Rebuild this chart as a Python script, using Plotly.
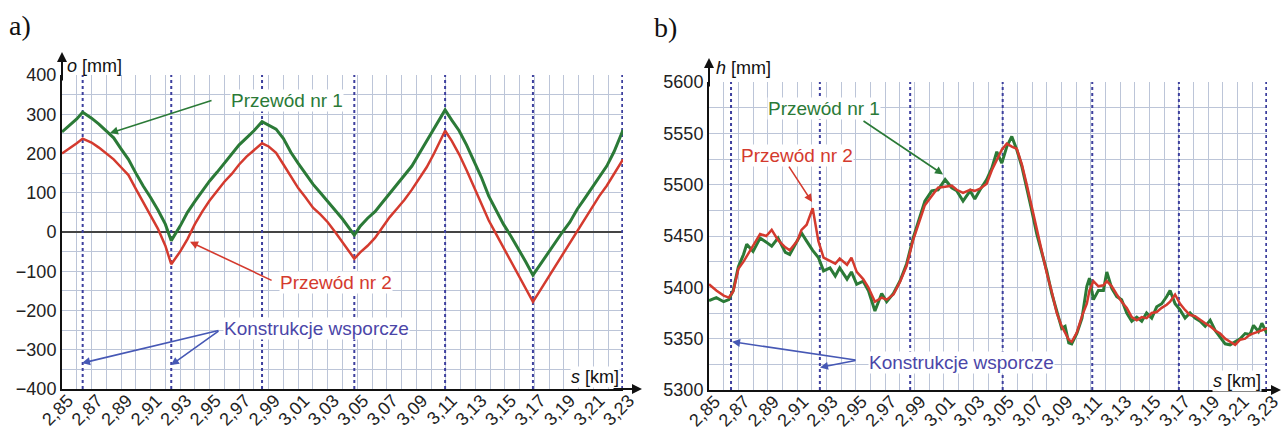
import plotly.graph_objects as go

W, H = 1285, 434

# ---------------- data: panel a) (stagger o [mm]) ----------------
s_a = [2.850, 2.855, 2.860, 2.864, 2.870, 2.875, 2.880, 2.885, 2.890, 2.895, 2.900, 2.905, 2.910, 2.915, 2.920, 2.924,
       2.930, 2.935, 2.940, 2.945, 2.950, 2.955, 2.960, 2.965, 2.970, 2.975, 2.980, 2.9855,
       2.990, 2.995, 3.000, 3.005, 3.010, 3.015, 3.020, 3.025, 3.030, 3.035, 3.040, 3.048,
       3.052, 3.057, 3.062, 3.067, 3.072, 3.077, 3.082, 3.087, 3.092, 3.097, 3.102, 3.1095,
       3.114, 3.119, 3.124, 3.129, 3.134, 3.139, 3.144, 3.149, 3.154, 3.159, 3.164, 3.169,
       3.174, 3.179, 3.184, 3.189, 3.194, 3.199, 3.204, 3.209, 3.214, 3.219, 3.224, 3.230]
o_nr1 = [255, 272, 288, 305, 290, 275, 258, 240, 212, 185, 150, 117, 88, 56, 20, -22,
         15, 50, 78, 105, 130, 152, 176, 198, 222, 240, 258, 281,
         272, 262, 238, 203, 175, 148, 122, 100, 78, 55, 33, -8,
         15, 35, 52, 75, 98, 120, 143, 168, 200, 232, 262, 311,
         285, 258, 222, 182, 140, 92, 55, 20, -10, -42, -75, -110,
         -82, -55, -25, 0, 25, 58, 85, 112, 140, 168, 205, 260]
o_nr2 = [200, 212, 226, 238, 228, 215, 200, 185, 165, 145, 110, 75, 42, 8, -35, -82,
         -50, -18, 20, 52, 80, 105, 128, 148, 172, 192, 208, 226,
         218, 202, 172, 142, 112, 88, 62, 45, 25, 0, -25, -68,
         -52, -35, -15, 12, 38, 60, 82, 108, 135, 165, 200, 258,
         232, 198, 158, 115, 72, 30, -5, -40, -72, -108, -142, -178,
         -148, -118, -88, -60, -28, 2, 30, 60, 92, 118, 148, 185]
supports_a = [2.864, 2.924, 2.9855, 3.048, 3.1095, 3.169, 3.2295]

# ---------------- data: panel b) (height h [mm]) ----------------
s_b = [2.850, 2.855, 2.860, 2.8635, 2.8665, 2.870, 2.8735, 2.8757, 2.880, 2.8848,
       2.889, 2.8927, 2.897, 2.902, 2.905, 2.910, 2.913, 2.9165, 2.9206, 2.9245,
       2.928, 2.9324, 2.936, 2.939, 2.944, 2.947, 2.9506, 2.955, 2.9585, 2.963,
       2.9676, 2.971, 2.9756, 2.980, 2.9846, 2.989, 2.9937, 2.997, 3.0017, 3.006,
       3.0108, 3.0153, 3.0187, 3.023, 3.0278, 3.031, 3.0346, 3.0391, 3.0426, 3.046,
       3.0494, 3.0528, 3.0562, 3.0596, 3.063, 3.0664, 3.0698, 3.0732, 3.0766, 3.080,
       3.0834, 3.0868, 3.0902, 3.0925, 3.095, 3.097, 3.1005, 3.104, 3.1073, 3.1091,
       3.1118, 3.1152, 3.1186, 3.1209, 3.1243, 3.1277, 3.131, 3.1345, 3.1379, 3.1413,
       3.1447, 3.148, 3.1515, 3.1549, 3.1583, 3.1617, 3.164, 3.1674, 3.1708, 3.1742,
       3.1776, 3.181, 3.1845, 3.1879, 3.1913, 3.1947, 3.1981, 3.2015, 3.2049, 3.2083,
       3.2117, 3.2151, 3.2185, 3.2208, 3.2242, 3.2265, 3.230]
h_nr1 = [5387, 5390, 5386, 5388, 5397, 5420, 5432, 5442, 5435, 5448,
         5444, 5440, 5448, 5434, 5432, 5445, 5453, 5445, 5436, 5429,
         5416, 5419, 5411, 5419, 5408, 5415, 5403, 5406, 5397, 5377,
         5394, 5386, 5394, 5406, 5423, 5448, 5468, 5484, 5494, 5495,
         5505, 5497, 5494, 5484, 5494, 5486, 5495, 5505, 5516, 5532,
         5521, 5537, 5547, 5534, 5518, 5498, 5475, 5452, 5433, 5416,
         5394, 5378, 5360, 5362, 5346, 5345, 5355, 5370, 5401, 5409,
         5388, 5397, 5397, 5415, 5399, 5391, 5388, 5375, 5367, 5371,
         5367, 5375, 5370, 5381, 5384, 5391, 5397, 5384, 5378, 5370,
         5375, 5370, 5367, 5362, 5368, 5358, 5352, 5345, 5344, 5347,
         5350, 5355, 5354, 5363, 5357, 5365, 5355]
h_nr2 = [5403, 5397, 5392, 5390, 5396, 5418, 5425, 5430, 5440, 5452,
         5450, 5456, 5446, 5439, 5436, 5445, 5456, 5461, 5477, 5445,
         5429, 5426, 5423, 5428, 5422, 5429, 5415, 5408, 5400, 5386,
         5390, 5388, 5393, 5405, 5421, 5446, 5466, 5480, 5489, 5497,
         5498, 5499, 5495, 5492, 5495, 5494, 5496, 5501, 5514, 5524,
         5534, 5540, 5537, 5535, 5520, 5500, 5478, 5455, 5435, 5414,
         5396, 5375, 5362, 5355, 5349, 5347, 5356, 5372, 5384, 5397,
         5406, 5401, 5402, 5406, 5401, 5393, 5386, 5380, 5371, 5368,
         5371, 5370, 5375, 5376, 5380, 5383, 5386, 5393, 5384, 5378,
         5373, 5372, 5368, 5365, 5362, 5358, 5355, 5350, 5347, 5344,
         5349, 5350, 5354, 5355, 5357, 5358, 5360]
supports_b = [2.865, 2.9255, 2.987, 3.050, 3.111, 3.170, 3.2295]

# ---------------- tick labels ----------------
tick_s = [2.85, 2.87, 2.89, 2.91, 2.93, 2.95, 2.97, 2.99, 3.01, 3.03,
          3.05, 3.07, 3.09, 3.11, 3.13, 3.15, 3.17, 3.19, 3.21, 3.23]
tick_s_text = ["2,85", "2,87", "2,89", "2,91", "2,93", "2,95", "2,97", "2,99", "3,01", "3,03",
               "3,05", "3,07", "3,09", "3,11", "3,13", "3,15", "3,17", "3,19", "3,21", "3,23"]
tick_o = [-400, -300, -200, -100, 0, 100, 200, 300, 400]
tick_h = [5300, 5350, 5400, 5450, 5500, 5550, 5600]
range_o = [-400, 400]
range_h = [5300, 5600]

# ---------------- styles ----------------
GREEN = "#2b7a37"
RED = "#d43a2e"
BLUE_TXT = "#4b46a8"
BLUE_ARR = "#4658b5"
SUPPORT = "#3d3f9e"
GRID = "#bcc5d8"
FONT = "Liberation Sans, Arial, sans-serif"


def px(xp):
    return xp / W


def py(yp):
    return 1 - yp / H


def support_xy(positions, yr):
    xs, ys = [], []
    for s in positions:
        xs += [s, s, None]
        ys += [yr[0], yr[1], None]
    return xs, ys


fig = go.Figure()
sx, sy = support_xy(supports_a, range_o)
fig.add_trace(go.Scatter(x=sx, y=sy, mode="lines", line=dict(color=SUPPORT, width=2, dash="dot"),
                         xaxis="x", yaxis="y", showlegend=False, hoverinfo="skip"))
sx, sy = support_xy(supports_b, range_h)
fig.add_trace(go.Scatter(x=sx, y=sy, mode="lines", line=dict(color=SUPPORT, width=2, dash="dot"),
                         xaxis="x2", yaxis="y2", showlegend=False, hoverinfo="skip"))

fig.add_trace(go.Scatter(x=s_a, y=o_nr1, mode="lines", line=dict(color=GREEN, width=3),
                         xaxis="x", yaxis="y", showlegend=False))
fig.add_trace(go.Scatter(x=s_a, y=o_nr2, mode="lines", line=dict(color=RED, width=2.5),
                         xaxis="x", yaxis="y", showlegend=False))
fig.add_trace(go.Scatter(x=s_b, y=h_nr1, mode="lines", line=dict(color=GREEN, width=3),
                         xaxis="x2", yaxis="y2", showlegend=False))
fig.add_trace(go.Scatter(x=s_b, y=h_nr2, mode="lines", line=dict(color=RED, width=2.5),
                         xaxis="x2", yaxis="y2", showlegend=False))

xaxis_common = dict(range=[2.85, 3.23], tickmode="array", tickvals=tick_s, ticktext=tick_s_text,
                    tickangle=-45, showgrid=True, gridcolor=GRID, gridwidth=1,
                    minor=dict(tick0=2.85, dtick=0.01, showgrid=True, gridcolor=GRID, gridwidth=1),
                    showline=True, linecolor="#111", linewidth=2, zeroline=False, ticks="",
                    ticklabelshift=6, ticklabelstandoff=-8, automargin=False,
                    tickfont=dict(family=FONT, size=18, color="#222"), fixedrange=True)

fig.update_layout(
    width=W, height=H,
    margin=dict(l=0, r=0, t=0, b=0, autoexpand=False),
    paper_bgcolor="white", plot_bgcolor="white",
    font=dict(family=FONT),
    xaxis=dict(domain=[px(62), px(623)], anchor="y", **xaxis_common),
    yaxis=dict(domain=[py(389), py(75)], anchor="x", range=range_o, tickmode="array",
               tickvals=tick_o, showgrid=True, gridcolor=GRID, gridwidth=1,
               minor=dict(tick0=0, dtick=50, showgrid=True, gridcolor=GRID, gridwidth=1),
               showline=True, linecolor="#111", linewidth=2, zeroline=True,
               zerolinecolor="#444", zerolinewidth=1.5, ticks="", automargin=False,
               tickfont=dict(family=FONT, size=18, color="#222"), fixedrange=True),
    xaxis2=dict(domain=[px(709), px(1267)], anchor="y2", **xaxis_common),
    yaxis2=dict(domain=[py(390), py(82)], anchor="x2", range=range_h, tickmode="array",
                tickvals=tick_h, tickformat="d", showgrid=True, gridcolor=GRID, gridwidth=1,
                minor=dict(tick0=5300, dtick=25, showgrid=True, gridcolor=GRID, gridwidth=1),
                showline=True, linecolor="#111", linewidth=2, zeroline=False, ticks="",
                automargin=False,
                tickfont=dict(family=FONT, size=18, color="#222"), fixedrange=True),
)

ann = []


def text(xp, yp, t, color, size=19, xanchor="center", family=FONT, bg="white"):
    ann.append(dict(xref="paper", yref="paper", x=px(xp), y=py(yp), text=t, showarrow=False,
                    xanchor=xanchor, yanchor="middle", bgcolor=bg, borderpad=0,
                    font=dict(family=family, size=size, color=color)))


def arrow(xr, yr, hx, hy, tx, ty, color, width=1.6):
    ann.append(dict(xref=xr, yref=yr, axref=xr, ayref=yr, x=hx, y=hy, ax=tx, ay=ty, text="",
                    showarrow=True, arrowhead=2, arrowsize=1, arrowwidth=width,
                    arrowcolor=color, standoff=0, startstandoff=0))


def axis_arrow(xp, yp, dx, dy):
    ann.append(dict(xref="paper", yref="paper", x=px(xp), y=py(yp), ax=dx, ay=dy, text="",
                    showarrow=True, arrowhead=2, arrowsize=1, arrowwidth=2,
                    arrowcolor="#111", standoff=0))


# panel labels
text(20, 25, "a)", "#111", size=28, family="Liberation Serif, Times New Roman, serif", bg=None)
text(665, 27, "b)", "#111", size=28, family="Liberation Serif, Times New Roman, serif", bg=None)

# axis arrows and titles
axis_arrow(62, 52, 0, 30)
axis_arrow(642, 389, -30, 0)
axis_arrow(709, 58, 0, 30)
axis_arrow(1281, 390, -30, 0)
text(66, 66, "<i>o</i> [mm]", "#111", size=18, xanchor="left", bg=None)
text(715, 68, "<i>h</i> [mm]", "#111", size=18, xanchor="left", bg=None)
text(595, 377, "<i>s</i> [km]", "#111", size=18)
text(1237, 381, "<i>s</i> [km]", "#111", size=18)

# panel a annotations
text(287, 100, "Przewód nr 1", GREEN)
arrow("x", "y", 2.8825, 252, 2.9523, 336, GREEN)
text(336, 282, "Przewód nr 2", RED)
arrow("x", "y", 2.9367, -25, 2.993, -125, RED)
text(316, 328, "Konstrukcje wsporcze", BLUE_TXT)
arrow("x", "y", 2.8636, -334, 2.957, -250, BLUE_ARR)
arrow("x", "y", 2.9238, -339, 2.957, -250, BLUE_ARR)

# panel b annotations
text(824, 109, "Przewód nr 1", GREEN)
arrow("x2", "y2", 3.0094, 5510, 2.9542, 5563, GREEN)
text(797, 155, "Przewód nr 2", RED)
arrow("x2", "y2", 2.9202, 5483, 2.9038, 5519, RED)
text(961, 362, "Konstrukcje wsporcze", BLUE_TXT)
arrow("x2", "y2", 2.8657, 5347, 2.9508, 5329, BLUE_ARR)
arrow("x2", "y2", 2.9256, 5322, 2.9508, 5329, BLUE_ARR)

fig.update_layout(annotations=ann)

fig.write_html("out.html")
